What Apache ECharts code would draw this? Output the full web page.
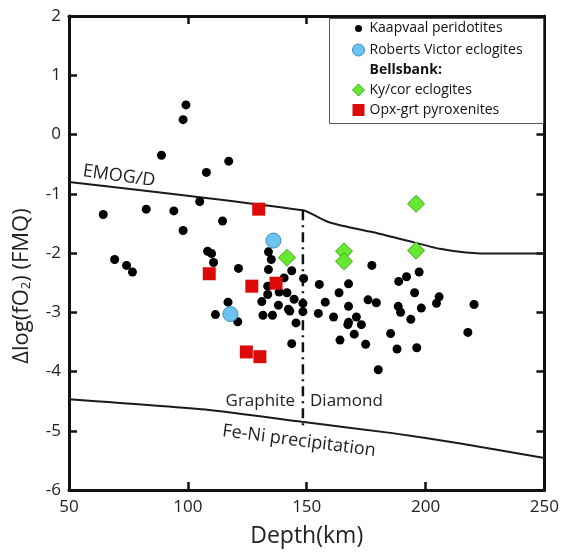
<!DOCTYPE html>
<html>
<head>
<meta charset="utf-8">
<script src="https://cdn.jsdelivr.net/npm/echarts@6/dist/echarts.min.js"></script>
<style>html,body{margin:0;padding:0;background:#fff;}#c{width:562px;height:553px;}</style>
</head>
<body>
<div id="c"></div>
<script>
// ---- data (depth km, Δlog fO2 FMQ) ----
const kaapvaalDepth = [99.2,98,88.9,117.2,107.8,105,64.4,82.5,94.1,98,114.6,69.2,74.2,76.7,108.3,110,110.8,121.3,133.9,135.1,133.9,143.7,140.5,148.7,133.6,133.6,138.4,141.7,144.7,131.1,138.1,142.3,142.9,116.9,111.6,121,131.6,135.6,148.4,148.4,145.5,143.7,177.4,155.3,167.6,163.6,157.8,175.8,179.3,167.6,154.9,161.3,170.9,167.6,167.3,173,170,164,174.8,180.1,188.7,192,197.3,195.4,188.5,189.5,198.2,205.7,204.6,220.4,193.8,185.3,188,196.3,217.8];
const kaapvaalFO2 = [0.50,0.25,-0.35,-0.45,-0.64,-1.13,-1.35,-1.26,-1.29,-1.62,-1.46,-2.11,-2.21,-2.32,-1.97,-2.01,-2.16,-2.26,-1.98,-2.11,-2.28,-2.30,-2.42,-2.43,-2.56,-2.70,-2.66,-2.67,-2.78,-2.82,-2.88,-2.95,-2.98,-2.83,-3.04,-3.16,-3.05,-3.05,-2.85,-2.99,-3.18,-3.53,-2.21,-2.53,-2.52,-2.67,-2.83,-2.79,-2.84,-2.90,-3.02,-3.08,-3.08,-3.17,-3.21,-3.21,-3.37,-3.47,-3.54,-3.97,-2.48,-2.40,-2.32,-2.67,-2.90,-3.00,-2.93,-2.74,-2.85,-2.87,-3.12,-3.36,-3.62,-3.60,-3.34];
const robertsDepth = [136, 117.9];
const robertsFO2 = [-1.79, -3.03];
const kycorDepth = [141.7, 165.7, 165.7, 196, 196];
const kycorFO2 = [-2.08, -1.97, -2.14, -1.17, -1.96];
const opxDepth = [109, 129.8, 126.9, 137.1, 124.6, 130.3];
const opxFO2 = [-2.35, -1.26, -2.56, -2.51, -3.67, -3.75];
const emogDepth = [50, 148.4, 158, 164, 178, 192, 206, 217, 230, 250];
const emogFO2 = [-0.80, -1.28, -1.46, -1.53, -1.65, -1.79, -1.93, -1.99, -2.01, -2.01];
const feniDepth = [50, 109, 148, 186, 214, 250];
const feniFO2 = [-4.47, -4.65, -4.85, -5.04, -5.21, -5.46];
const gdDepth = [148.4, 148.4];
const gdFO2 = [-1.28, -4.95];
const xTicks = [50, 100, 150, 200, 250];
const yTicks = [-6, -5, -4, -3, -2, -1, 0, 1, 2];

const zip = (a, b) => a.map((v, i) => [v, b[i]]);
const FONT = 'Open Sans';
const chart = echarts.init(document.getElementById('c'));

const axisLine = {show: true, onZero: false, lineStyle: {color: '#111', width: 3}};
const axisTick = {show: true, inside: true, length: 8, lineStyle: {color: '#111', width: 2.5}};

chart.setOption({
  animation: false,
  backgroundColor: '#fff',
  grid: {left: 69, right: 16, top: 16, bottom: 59, containLabel: false},
  xAxis: [
    {type: 'value', min: xTicks[0], max: xTicks[xTicks.length-1], interval: 50, position: 'bottom',
     axisLine, axisTick, splitLine: {show: false},
     axisLabel: {fontFamily: FONT, fontSize: 17, color: '#222', margin: 9},
     name: 'Depth(km)', nameLocation: 'middle', nameGap: 35,
     nameTextStyle: {fontFamily: FONT, fontSize: 23, color: '#222'}},
    {type: 'value', min: xTicks[0], max: xTicks[xTicks.length-1], interval: 50, position: 'top',
     axisLine, axisTick, axisLabel: {show: false}, splitLine: {show: false}}
  ],
  yAxis: [
    {type: 'value', min: yTicks[0], max: yTicks[yTicks.length-1], interval: 1, position: 'left',
     axisLine, axisTick, splitLine: {show: false},
     axisLabel: {fontFamily: FONT, fontSize: 17, color: '#222', margin: 8}},
    {type: 'value', min: yTicks[0], max: yTicks[yTicks.length-1], interval: 1, position: 'right',
     axisLine, axisTick, axisLabel: {show: false}, splitLine: {show: false}}
  ],
  legend: {
    orient: 'vertical', left: 350, top: 20, padding: 0, itemWidth: 12, itemHeight: 12, itemGap: 6,
    selectedMode: false, z: 10,
    textStyle: {fontFamily: FONT, fontSize: 14, color: '#111'},
    data: [
      {name: 'Kaapvaal peridotites', icon: 'circle', itemStyle: {color: '#000', opacity: 1, borderColor: '#fff', borderWidth: 5}},
      {name: 'Roberts Victor eclogites', icon: 'circle', itemStyle: {color: '#6CC5F0', opacity: 1, borderColor: '#3A8FC0', borderWidth: 1}},
      {name: 'Bellsbank:', icon: 'circle', itemStyle: {color: 'rgba(0,0,0,0)', borderWidth: 0}, textStyle: {fontWeight: 'bold', fontFamily: FONT, fontSize: 14, color: '#111'}},
      {name: 'Ky/cor eclogites', icon: 'diamond', itemStyle: {color: '#66E833', opacity: 1, borderColor: '#3DAA1A', borderWidth: 1}},
      {name: 'Opx-grt pyroxenites', icon: 'rect', itemStyle: {color: '#DD0A0A', opacity: 1, borderWidth: 0}}
    ]
  },
  graphic: [
    {type: 'rect', left: 329, top: 18, z: 1, shape: {width: 214, height: 105},
     style: {fill: '#fff', stroke: '#555', lineWidth: 1}},
    {type: 'text', x: 22, y: 286, rotation: Math.PI / 2, z: 5,
     style: {text: '{n|Δlog(fO}{s|2}{n|) (FMQ)}', align: 'center', verticalAlign: 'middle',
       rich: {n: {font: '22px "Open Sans"', fill: '#222'},
              s: {font: '13px "Open Sans"', fill: '#222', verticalAlign: 'bottom', padding: [9, 0, 0, 0]}}}},
    {type: 'text', x: 119, y: 176, rotation: -0.14, z: 5,
     style: {text: 'EMOG/D', font: '18px "Open Sans"', fill: '#222', align: 'center', verticalAlign: 'middle'}},
    {type: 'text', x: 295, y: 401, z: 5,
     style: {text: 'Graphite', font: '17px "Open Sans"', fill: '#222', align: 'right', verticalAlign: 'middle'}},
    {type: 'text', x: 310, y: 401, z: 5,
     style: {text: 'Diamond', font: '17px "Open Sans"', fill: '#222', align: 'left', verticalAlign: 'middle'}},
    {type: 'text', x: 299, y: 441, rotation: -0.13, z: 5,
     style: {text: 'Fe-Ni precipitation', font: '18px "Open Sans"', fill: '#222', align: 'center', verticalAlign: 'middle'}}
  ],
  series: [
    {name: 'EMOG/D', type: 'line', data: zip(emogDepth, emogFO2), showSymbol: false, symbol: 'none',
     lineStyle: {color: '#1a1a1a', width: 2}, smooth: 0.2, z: 2},
    {name: 'Fe-Ni precipitation', type: 'line', data: zip(feniDepth, feniFO2), showSymbol: false, symbol: 'none',
     lineStyle: {color: '#1a1a1a', width: 2}, smooth: 0.2, z: 2},
    {name: 'Graphite-Diamond', type: 'line', data: zip(gdDepth, gdFO2), showSymbol: false, symbol: 'none',
     lineStyle: {color: '#111', width: 2.5, type: [10, 5, 2, 5]}, z: 2},
    {name: 'Kaapvaal peridotites', type: 'scatter', data: zip(kaapvaalDepth, kaapvaalFO2),
     symbol: 'circle', symbolSize: 9, itemStyle: {color: '#000', opacity: 1}, z: 3},
    {name: 'Roberts Victor eclogites', type: 'scatter', data: zip(robertsDepth, robertsFO2),
     symbol: 'circle', symbolSize: 15, itemStyle: {color: '#6CC5F0', opacity: 1, borderColor: '#3A8FC0', borderWidth: 1}, z: 4},
    {name: 'Bellsbank:', type: 'scatter', data: []},
    {name: 'Ky/cor eclogites', type: 'scatter', data: zip(kycorDepth, kycorFO2),
     symbol: 'diamond', symbolSize: 17, itemStyle: {color: '#66E833', opacity: 1, borderColor: '#3DAA1A', borderWidth: 1}, z: 4},
    {name: 'Opx-grt pyroxenites', type: 'scatter', data: zip(opxDepth, opxFO2),
     symbol: 'rect', symbolSize: 13, itemStyle: {color: '#DD0A0A', opacity: 1}, z: 4}
  ]
});
</script>
</body>
</html>
